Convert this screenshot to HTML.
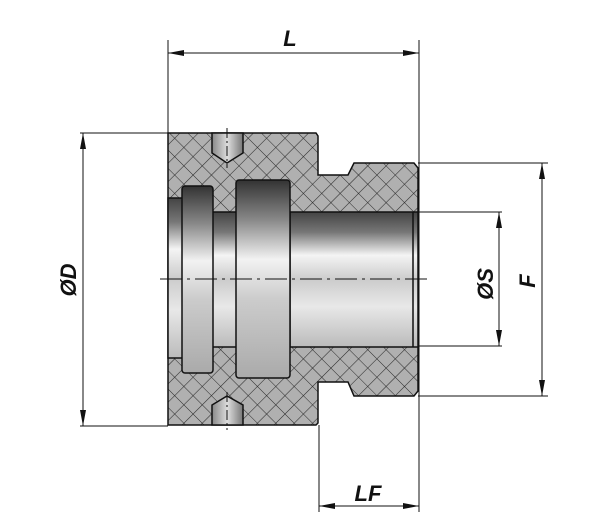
<!DOCTYPE html>
<html><head><style>body{margin:0;background:#fff}svg{display:block}</style></head><body>
<svg width="614" height="528" viewBox="0 0 614 528" xmlns="http://www.w3.org/2000/svg">
<defs>
<pattern id="h" width="13" height="13" patternUnits="userSpaceOnUse" patternTransform="rotate(45)">
<rect width="13" height="13" fill="#b0b0b0"/>
<path d="M0 0H13M0 0V13" stroke="#2a2a2a" stroke-width="1.1"/>
</pattern>
<linearGradient id="b" x1="0" y1="0" x2="0" y2="1">
<stop offset="0" stop-color="#444"/><stop offset="0.15" stop-color="#777"/><stop offset="0.32" stop-color="#f4f4f4"/><stop offset="0.5" stop-color="#ccc"/><stop offset="0.7" stop-color="#e8e8e8"/><stop offset="1" stop-color="#bbb"/>
</linearGradient>
<linearGradient id="g" x1="0" y1="0" x2="0" y2="1">
<stop offset="0" stop-color="#333"/><stop offset="0.2" stop-color="#888"/><stop offset="0.4" stop-color="#f2f2f2"/><stop offset="0.6" stop-color="#ccc"/><stop offset="1" stop-color="#aaa"/>
</linearGradient>
<linearGradient id="hl" x1="0" y1="0" x2="1" y2="0">
<stop offset="0" stop-color="#888"/><stop offset="0.5" stop-color="#ddd"/><stop offset="1" stop-color="#777"/>
</linearGradient>
</defs>
<g stroke="#111" stroke-width="1.5">
<path d="M168 133H316L318 136V175H348L354 163H414L418 168V391L414 396H354L348 382H318V423L316 425H168Z" fill="url(#h)"/>
<rect x="290" y="212" width="128" height="135" fill="url(#b)"/>
<rect x="168" y="198" width="16" height="160" fill="url(#b)"/>
<rect x="211" y="212" width="27" height="135" fill="url(#b)"/>
<rect x="182" y="186" width="31" height="187" rx="3" fill="url(#g)"/>
<rect x="236" y="180" width="54" height="198" rx="3" fill="url(#g)"/>
<path d="M212 133V153L227 163L243 153V133Z" fill="url(#hl)"/>
<path d="M212 425V405L227 396L243 405V425Z" fill="url(#hl)"/>
<line x1="413" y1="212" x2="413" y2="347"/>
</g>
<g stroke="#111" stroke-width="1" fill="none">
<line x1="160" y1="279" x2="430" y2="279" stroke-dasharray="22,5,3,5"/>
<line x1="227" y1="128" x2="227" y2="168" stroke-dasharray="10,3,2,3"/>
<line x1="227" y1="392" x2="227" y2="430" stroke-dasharray="10,3,2,3"/>
<line x1="168" y1="40" x2="168" y2="133"/>
<line x1="419" y1="40" x2="419" y2="512"/>
<line x1="319" y1="425" x2="319" y2="512"/>
<line x1="168" y1="53" x2="419" y2="53"/>
<line x1="80" y1="133" x2="168" y2="133"/>
<line x1="80" y1="426" x2="168" y2="426"/>
<line x1="83" y1="133" x2="83" y2="426"/>
<line x1="418" y1="163" x2="548" y2="163"/>
<line x1="418" y1="396" x2="548" y2="396"/>
<line x1="542" y1="163" x2="542" y2="396"/>
<line x1="418" y1="212" x2="502" y2="212"/>
<line x1="418" y1="346" x2="502" y2="346"/>
<line x1="499" y1="212" x2="499" y2="346"/>
<line x1="319" y1="506" x2="419" y2="506"/>
</g>
<g fill="#111">
<path d="M168 53l16-3v6z"/><path d="M419 53l-16-3v6z"/>
<path d="M83 133l-3 16h6z"/><path d="M83 426l-3-16h6z"/>
<path d="M542 163l-3 16h6z"/><path d="M542 396l-3-16h6z"/>
<path d="M499 212l-3 16h6z"/><path d="M499 346l-3-16h6z"/>
<path d="M319 506l16-3v6z"/><path d="M419 506l-16-3v6z"/>
</g>
<g font-family="Liberation Sans, sans-serif" font-weight="bold" font-style="italic" font-size="22" fill="#111">
<text x="290" y="46" text-anchor="middle">L</text>
<text x="368" y="501" text-anchor="middle">LF</text>
<text transform="translate(76,280) rotate(-90)" text-anchor="middle">ØD</text>
<text transform="translate(493,284) rotate(-90)" text-anchor="middle">ØS</text>
<text transform="translate(535,281) rotate(-90)" text-anchor="middle">F</text>
</g>
</svg>
</body></html>
